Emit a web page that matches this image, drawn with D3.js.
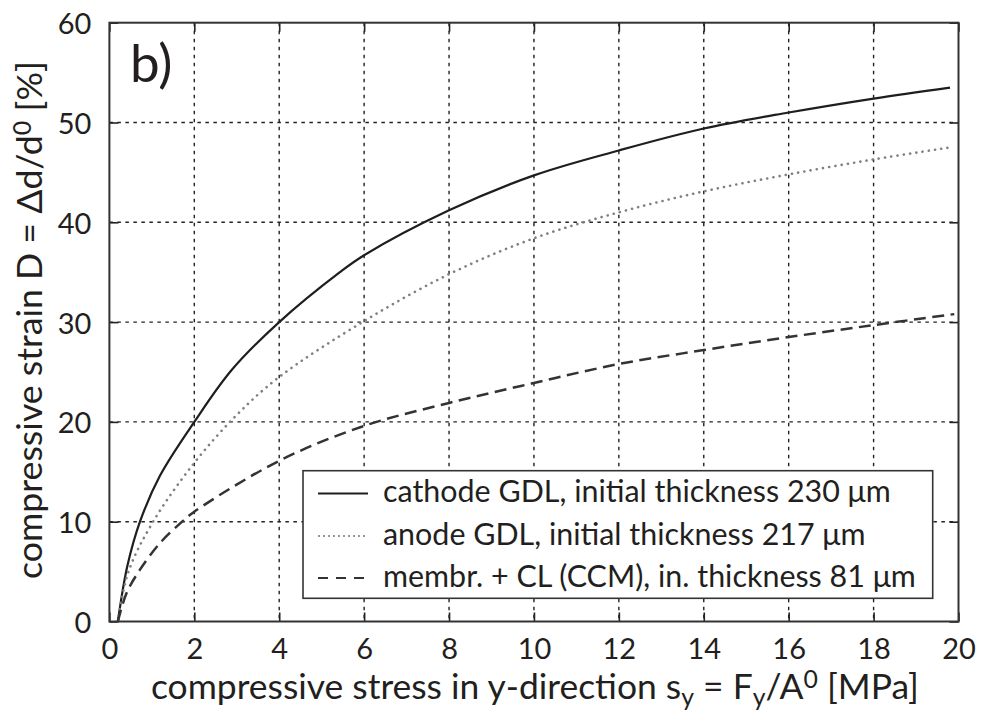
<!DOCTYPE html>
<html>
<head>
<meta charset="utf-8">
<script src="https://cdn.jsdelivr.net/npm/d3@7"></script>
<style>
  html, body { margin: 0; padding: 0; background: #fff; }
  svg { display: block; }
  text { font-family: Lato, "Open Sans", sans-serif; fill: #231f20; }
</style>
</head>
<body>
<svg id="chart" width="981" height="720"></svg>
<script>
// ---- data ----
const xTicks = [0, 2, 4, 6, 8, 10, 12, 14, 16, 18, 20];
const yTicks = [0, 10, 20, 30, 40, 50, 60];

const cathodeX = [0.2, 0.42, 0.72, 1.19, 2, 2.88, 4, 5.43, 6, 8, 10, 12, 14, 16, 18, 19.8];
const cathodeY = [0, 5.5, 10, 14.6, 20, 25.2, 30, 35, 36.7, 41.2, 44.7, 47.2, 49.4, 51.0, 52.4, 53.5];

const anodeX = [0.2, 0.45, 1.03, 2, 3, 4, 6, 8, 10, 12, 14, 16, 18, 19.8];
const anodeY = [0, 5, 10, 15.9, 20.7, 24.5, 30.1, 34.8, 38.4, 41.0, 43.1, 44.8, 46.3, 47.5];

const ccmX = [0.2, 0.4, 0.72, 1.2, 1.66, 2, 4, 6, 8, 10, 12, 14, 16, 18, 19.9];
const ccmY = [0, 2.8, 5.2, 7.9, 9.8, 11.0, 16.1, 19.6, 21.9, 23.9, 25.8, 27.2, 28.5, 29.7, 30.8];

const seriesNames = [
  "cathode GDL, initial thickness 230 \u03BCm",
  "anode GDL, initial thickness 217 \u03BCm",
  "membr. + CL (CCM), in. thickness 81 \u03BCm"
];
const panelLabel = "b)";

// ---- layout ----
const W = 981, H = 720;
const m = { left: 109.4, right: 22.5, top: 22.7, bottom: 98.5 };
const iw = W - m.left - m.right, ih = H - m.top - m.bottom;

const svg = d3.select("#chart");
const g = svg.append("g").attr("transform", `translate(${m.left},${m.top})`);

const x = d3.scaleLinear().domain([0, 20]).range([0, iw]);
const y = d3.scaleLinear().domain([0, 60]).range([ih, 0]);

// grid
const gridStyle = sel => sel.attr("stroke", "#222").attr("stroke-width", 1.4)
  .attr("stroke-dasharray", "3.5,4.5").attr("fill", "none");
g.append("g").selectAll("line").data(xTicks.slice(1, -1)).join("line")
  .attr("x1", d => x(d)).attr("x2", d => x(d)).attr("y1", 0).attr("y2", ih).call(gridStyle);
g.append("g").selectAll("line").data(yTicks.slice(1, -1)).join("line")
  .attr("y1", d => y(d)).attr("y2", d => y(d)).attr("x1", 0).attr("x2", iw).call(gridStyle);

// axes with inward ticks
const tickLen = 9;
const axB = g.append("g").attr("transform", `translate(0,${ih})`)
  .call(d3.axisBottom(x).tickValues(xTicks).tickSize(-tickLen).tickPadding(tickLen + 8).tickFormat(d3.format("d")));
const axT = g.append("g")
  .call(d3.axisTop(x).tickValues(xTicks).tickSize(-tickLen).tickFormat(""));
const axL = g.append("g")
  .call(d3.axisLeft(y).tickValues(yTicks).tickSize(-tickLen).tickPadding(tickLen + 9).tickFormat(d3.format("d")));
const axR = g.append("g").attr("transform", `translate(${iw},0)`)
  .call(d3.axisRight(y).tickValues(yTicks).tickSize(-tickLen).tickFormat(""));
[axB, axT, axL, axR].forEach(a => {
  a.select(".domain").remove();
  a.selectAll(".tick line").attr("stroke", "#222").attr("stroke-width", 1.6);
  a.selectAll("text").style("font-size", "29px").attr("fill", "#231f20")
    .style("font-family", "Lato, 'Open Sans', sans-serif");
});
axL.selectAll(".tick text").attr("dy", "0.38em");
axB.selectAll(".tick text").attr("dy", "0.7em");

// curves
const line = d3.line().x(d => x(d[0])).y(d => y(d[1])).curve(d3.curveCatmullRom.alpha(0.5));
const series = [
  { xs: cathodeX, ys: cathodeY, stroke: "#1e1e1e", width: 2.2, dash: null, cap: "butt" },
  { xs: anodeX, ys: anodeY, stroke: "#808080", width: 2.6, dash: "0.1,6.2", cap: "round" },
  { xs: ccmX, ys: ccmY, stroke: "#333", width: 2.5, dash: "12,6.5", cap: "butt" }
];
series.forEach(s => {
  g.append("path").datum(s.xs.map((v, i) => [v, s.ys[i]]))
    .attr("d", line).attr("fill", "none").attr("stroke", s.stroke)
    .attr("stroke-width", s.width).attr("stroke-dasharray", s.dash)
    .attr("stroke-linecap", s.cap);
});

// frame
g.append("rect").attr("x", 0).attr("y", 0).attr("width", iw).attr("height", ih)
  .attr("fill", "none").attr("stroke", "#333").attr("stroke-width", 2);

// panel label
g.append("text").attr("x", 130 - m.left).attr("y", 82 - m.top)
  .style("font-size", "53px").text(panelLabel);

// legend
const lg = svg.append("g");
lg.append("rect").attr("x", 303).attr("y", 470.7).attr("width", 932.7 - 303).attr("height", 598.3 - 470.7)
  .attr("fill", "#fff").attr("stroke", "#333").attr("stroke-width", 1.6);
const legStyles = [
  { stroke: "#1e1e1e", width: 1.8, dash: null },
  { stroke: "#777", width: 1.5, dash: "2,3" },
  { stroke: "#333", width: 1.8, dash: "10,8" }
];
const rowY = [493.5, 536, 578];
seriesNames.forEach((name, i) => {
  lg.append("line").attr("x1", 318).attr("x2", 368).attr("y1", rowY[i]).attr("y2", rowY[i])
    .attr("stroke", legStyles[i].stroke).attr("stroke-width", legStyles[i].width)
    .attr("stroke-dasharray", legStyles[i].dash);
  lg.append("text").attr("class", "legtext").attr("x", 383).attr("y", rowY[i] + 8.5)
    .style("font-size", "25px").text(name);
});
{
  const t = lg.select(".legtext").node();
  const w = t.getComputedTextLength();
  lg.selectAll(".legtext").style("font-size", (25 * 508 / w) + "px");
}

// x title
const xt = svg.append("text").attr("x", (m.left + W - m.right) / 2 + 1).attr("y", 699)
  .attr("text-anchor", "middle").style("font-size", "28px");
xt.append("tspan").text("compressive stress in y-direction s");
xt.append("tspan").attr("dy", 7).style("font-size", "0.7em").text("y");
xt.append("tspan").attr("dy", -7).text(" = F");
xt.append("tspan").attr("dy", 7).style("font-size", "0.7em").text("y");
xt.append("tspan").attr("dy", -7).text("/A");
xt.append("tspan").attr("dy", -11).style("font-size", "0.7em").text("0");
xt.append("tspan").attr("dy", 11).text(" [MPa]");
{
  const w = xt.node().getComputedTextLength();
  xt.style("font-size", (28 * 768 / w) + "px");
}

// y title (starts at the bottom, reads upward)
const yt = svg.append("text").attr("transform", `translate(42,579) rotate(-90)`)
  .attr("text-anchor", "start").attr("x", 0).style("font-size", "28px");
yt.append("tspan").text("compressive strain D = \u0394d/d");
yt.append("tspan").attr("dy", -11).style("font-size", "0.7em").text("0");
yt.append("tspan").attr("dy", 11).text(" [%]");
{
  const w = yt.node().getComputedTextLength();
  yt.style("font-size", (28 * 518 / w) + "px");
}
</script>
</body>
</html>
